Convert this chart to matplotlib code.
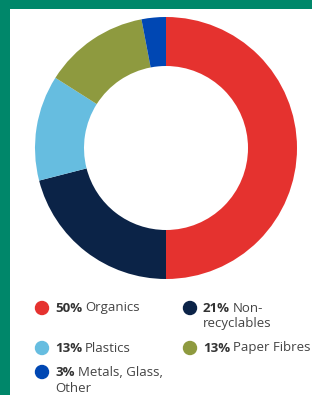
import matplotlib
matplotlib.use("Agg")
import matplotlib.pyplot as plt

labels = ["Organics", "Non-\nrecyclables", "Plastics", "Paper Fibres", "Metals, Glass,\nOther"]
shares = [50, 21, 13, 13, 3]
colors = ["#E5322F", "#0B2347", "#66BDE0", "#8E9A3F", "#0047B3"]

W, H = 312, 395
fig = plt.figure(figsize=(W / 100, H / 100), dpi=100)
fig.patch.set_facecolor("#00876A")

# white panel inside the green frame
bg = fig.add_axes([10 / W, 0, 1 - 10 / W, 1 - 9 / H])
bg.set_facecolor("white"); bg.set_xticks([]); bg.set_yticks([])
for s in bg.spines.values():
    s.set_visible(False)

# donut: centre (166,148), outer r 131
r = 131
ax = fig.add_axes([(166 - r) / W, 1 - (148 + r) / H, 2 * r / W, 2 * r / H])
ax.pie(shares, colors=colors, startangle=90, counterclock=False,
       wedgeprops=dict(width=49 / r, linewidth=0))
ax.set_xlim(-1, 1); ax.set_ylim(-1, 1)
ax.set_aspect("equal")

# legend in pixel coordinates
pos = [(42, 308), (190, 308), (42, 348), (190, 348), (42, 372)]
plt.rcParams["font.family"] = ["Open Sans", "DejaVu Sans"]
fs = 9.5
for (x, y), lab, val, c in zip(pos, labels, shares, colors):
    fig.patches.append(matplotlib.patches.Ellipse((x / W, 1 - y / H), 13 / W, 13 / H,
                       transform=fig.transFigure, color=c))
    lines = lab.split("\n")
    t = fig.text((x + 13) / W, 1 - y / H, f"{val}%", fontsize=fs, fontweight="bold",
                 color="#333333", va="center", ha="left")
    fig.canvas.draw()
    bb = t.get_window_extent()
    fig.text(bb.x1 / W + 3 / W, 1 - y / H, lines[0], fontsize=fs, color="#444444",
             va="center", ha="left")
    for i, ln in enumerate(lines[1:], 1):
        fig.text((x + 13) / W, 1 - (y + 16 * i) / H, ln, fontsize=fs, color="#444444",
                 va="center", ha="left")

fig.savefig("out.png", dpi=100, facecolor=fig.get_facecolor())
